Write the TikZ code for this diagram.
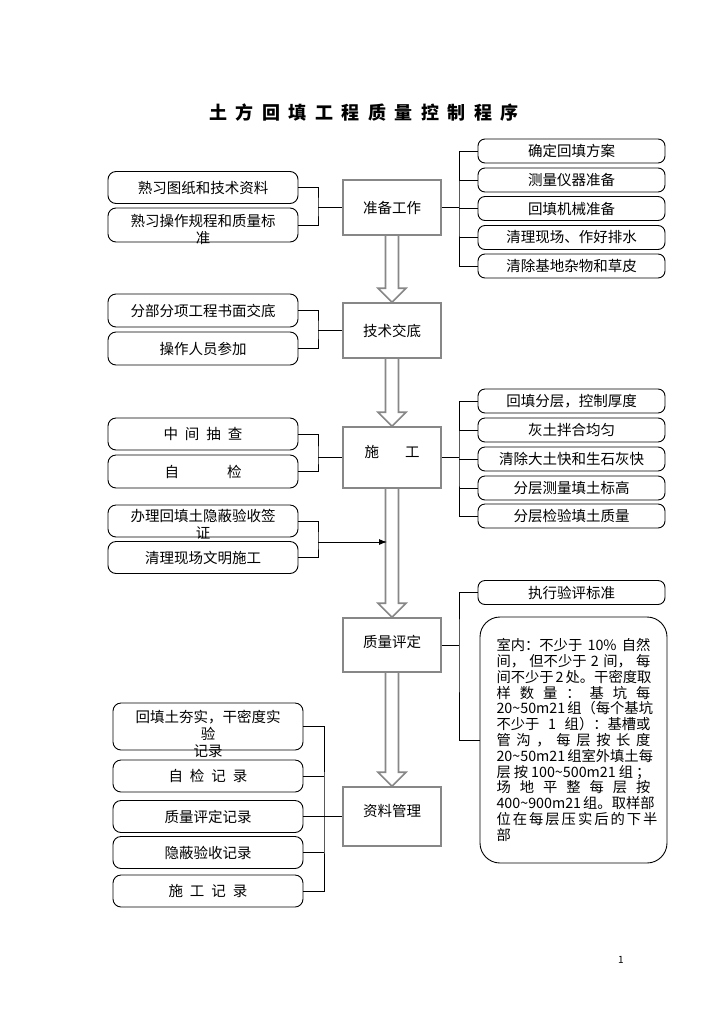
\documentclass[tikz,border=0pt]{standalone}
\usepackage{fontspec}
\setmainfont{Noto Sans CJK SC}
\usetikzlibrary{calc,arrows.meta}
\definecolor{boxgray}{RGB}{135,135,135}
\newcommand{\tld}{\textasciitilde}
\newcommand{\tsp}{\hspace{8.5pt}}
\newcommand{\jl}[1]{\makebox[154pt][s]{\spaceskip=2pt plus 1fil\relax #1}}
\newcommand{\lift}[2]{\raisebox{#1}[0pt][0pt]{#2}}
\newcommand{\rows}[1]{\begin{tabular}{@{}c@{}}#1\end{tabular}}
\newcommand{\hollowarrow}[2]{%
\draw[boxgray, line width=1.6pt, line join=miter]
  ($(#1.south)+(-6.5,0)$) -- ($(#2.north)+(-6.5,-14)$) -- ++(-7.5,0) -- (#2.north)
  -- ($(#2.north)+(14,-14)$) -- ++(-7.5,0) -- ($(#1.south)+(6.5,0)$);}

\begin{document}
\begin{tikzpicture}[
x=1pt, y=-1pt,
line width=0.9pt,
every node/.style={font=\fontsize{14.5}{17}\selectfont, align=center, inner sep=0pt},
stage/.style={draw=boxgray, line width=1.6pt, minimum width=98pt},
side/.style={draw, rounded corners=8pt, minimum width=190pt, minimum height=32pt},
task/.style={draw, rounded corners=7pt, minimum width=187pt, minimum height=24pt}
]
\fill[white] (0,0) rectangle (726,1026);
\useasboundingbox (0,0) rectangle (726,1026);

\node[font=\fontsize{18}{20}\selectfont\bfseries] (title) at (364,113)
  {土\tsp 方\tsp 回\tsp 填\tsp 工\tsp 程\tsp 质\tsp 量\tsp 控\tsp 制\tsp 程\tsp 序};

\node[stage, minimum height=55pt] (prep) at (392,207.5) {准备工作};
\node[stage, minimum height=55pt] (brief) at (392,330.5) {技术交底};
\node[stage, minimum height=61pt] (build) at (392,457.5) {\lift{0pt}{施\hspace{26pt}工}};
\node[stage, minimum height=54pt] (rate) at (392,645) {\lift{-2.5pt}{质量评定}};
\node[stage, minimum height=59pt] (files) at (392,816.5) {\lift{0pt}{资料管理}};

\node[side] (read1) at (203,187.5) {熟习图纸和技术资料};
\node[side, minimum height=34pt] (read2) at (203,225) {\lift{-10pt}{\rows{熟习操作规程和质量标\\准}}};
\node[side, minimum height=33pt] (brief1) at (203,310.5) {分部分项工程书面交底};
\node[side, minimum height=33pt] (brief2) at (203,348.5) {操作人员参加};
\node[side] (check1) at (203,434) {中\hspace{7pt}间\hspace{7pt}抽\hspace{7pt}查};
\node[side, minimum height=33pt] (check2) at (203,471.5) {自\hspace{48pt}检};
\node[side] (sign1) at (203,521) {\lift{-9pt}{\rows{办理回填土隐蔽验收签\\证}}};
\node[side] (sign2) at (203,557.5) {清理现场文明施工};

\node[side, minimum height=47pt] (rec1) at (208,726.5) {\lift{-13pt}{\rows{回填土夯实，干密度实\\验\\记录}}};
\node[side] (rec2) at (208,776) {自\hspace{7pt}检\hspace{7pt}记\hspace{7pt}录};
\node[side] (rec3) at (208,816.5) {质量评定记录};
\node[side] (rec4) at (208,852.5) {隐蔽验收记录};
\node[side] (rec5) at (208,891) {施\hspace{7pt}工\hspace{7pt}记\hspace{7pt}录};

\node[task] (prep1) at (571.5,151) {确定回填方案};
\node[task] (prep2) at (571.5,180) {测量仪器准备};
\node[task] (prep3) at (571.5,208.5) {回填机械准备};
\node[task] (prep4) at (571.5,237.5) {清理现场、作好排水};
\node[task] (prep5) at (571.5,266) {清除基地杂物和草皮};

\node[task] (build1) at (571.5,401) {回填分层，控制厚度};
\node[task] (build2) at (571.5,430) {灰土拌合均匀};
\node[task] (build3) at (571.5,459) {清除大土快和生石灰快};
\node[task] (build4) at (571.5,488) {分层测量填土标高};
\node[task] (build5) at (571.5,516) {分层检验填土质量};

\node[task] (rate1) at (571.5,592.5) {执行验评标准};
\node[draw, rounded corners=20pt, minimum width=187pt, minimum height=246pt,
  text width=154pt, align=left, font=\fontsize{14.3}{15.8}\selectfont] (rule) at (573.5,740)
  {\jl{室内：不少于 10\% 自然}\\
   \jl{间， 但不少于 2 间， 每}\\
   \jl{间不少于 2 处。干密度取}\\
   \jl{样 数 量 ： 基 坑 每}\\
   \jl{20\tld50m21 组（每个基坑}\\
   \jl{不少于 1 组）：基槽或}\\
   \jl{管 沟 ， 每 层 按 长 度}\\
   \jl{20\tld50m21 组室外填土每}\\
   \jl{层 按 100\tld500m21 组 ；}\\
   \jl{场 地 平 整 每 层 按}\\
   \jl{400\tld900m21 组。取样部}\\
   \jl{位 在 每 层 压 实 后 的 下 半}\\
   部};

\node[font=\fontsize{10}{12}\selectfont] (page) at (621,960) {1};

\hollowarrow{prep}{brief}
\hollowarrow{brief}{build}
\hollowarrow{build}{rate}
\hollowarrow{rate}{files}

\coordinate (jread) at (318,207.5);
\draw (read1.east) -| (jread) |- (read2.east);
\draw (jread) -- (prep.west);
\coordinate (jbrief) at (318,330.5);
\draw (brief1.east) -| (jbrief) |- (brief2.east);
\draw (jbrief) -- (brief.west);
\coordinate (jcheck) at (318,457.5);
\draw (check1.east) -| (jcheck) |- (check2.east);
\draw (jcheck) -- (build.west);
\coordinate (jsign) at (318,542);
\coordinate (shaft) at (387,542);
\draw (sign1.east) -| (jsign) |- (sign2.east);
\draw[-{Latex[length=8pt,width=6pt]}] (jsign) -- (shaft);

\coordinate (jfiles) at (324,816.5);
\draw (rec1.east) -| (jfiles) |- (rec5.east);
\foreach \n in {2,4} \draw (rec\n.east) -- (rec\n.east -| jfiles);
\draw (rec3.east) -- (files.west);

\coordinate (kprep) at (459,207.5);
\draw (prep.east) -- (kprep);
\draw (prep1.west) -| (kprep) |- (prep5.west);
\foreach \n in {2,3,4} \draw (prep\n.west) -- (prep\n.west -| kprep);
\coordinate (kbuild) at (459,457.5);
\draw (build.east) -- (kbuild);
\draw (build1.west) -| (kbuild) |- (build5.west);
\foreach \n in {2,3,4} \draw (build\n.west) -- (build\n.west -| kbuild);
\coordinate (krate) at (459,645);
\draw (rate.east) -- (krate);
\draw (rate1.west) -| (krate) |- (rule.west);

\end{tikzpicture}
\end{document}
